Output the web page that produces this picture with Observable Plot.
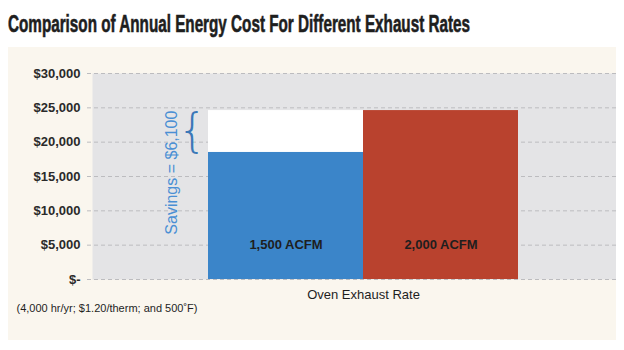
<!DOCTYPE html>
<html>
<head>
<meta charset="utf-8">
<script src="https://cdn.jsdelivr.net/npm/d3@7"></script>
<script src="https://cdn.jsdelivr.net/npm/@observablehq/plot@0.6"></script>
<style>
  html, body { margin: 0; padding: 0; background: #ffffff; }
  body { width: 624px; height: 350px; position: relative; overflow: hidden; font-family: "Liberation Sans", Arial, sans-serif; }
  #title { position: absolute; left: 8px; top: 10px; white-space: nowrap; font-family: "Liberation Sans Narrow", "Liberation Sans", sans-serif; font-weight: bold; font-size: 24px; color: #1e1e1e; -webkit-text-stroke: 0.6px #1e1e1e; transform-origin: 0 0; }
  #panel { position: absolute; left: 8px; top: 47px; width: 608px; height: 293px; background: #faf6ee; }
  #panel svg { display: block; }
</style>
</head>
<body>
<div id="title">Comparison of Annual Energy Cost For Different Exhaust Rates</div>
<div id="panel"></div>
<script>
// ---- data ----
const categories = ["1,500 ACFM", "2,000 ACFM"];
const annualCost = [18500, 24600];
const barColors = ["#3b85c9", "#b9422e"];
const yTicks = [0, 5000, 10000, 15000, 20000, 25000, 30000];
const yTickLabels = ["$-", "$5,000", "$10,000", "$15,000", "$20,000", "$25,000", "$30,000"];
const savingsLabel = "Savings = $6,100";
const xAxisLabel = "Oven Exhaust Rate";
const captionText = "(4,000 hr/yr; $1.20/therm; and 500˚F)";

const bars = categories.map((c, i) => ({category: c, cost: annualCost[i], color: barColors[i]}));
const savings = [{category: categories[0], y1: annualCost[0], y2: annualCost[1]}];

const bandStart = 200, bandEnd = 510;
const bandCenter0 = (bandStart + (bandStart + bandEnd) / 2) / 2;

const chart = Plot.plot({
  width: 608,
  height: 293,
  marginTop: 26,
  marginBottom: 61,
  marginLeft: 84,
  marginRight: 0,
  style: {background: "transparent", fontFamily: "'Liberation Sans', Arial, sans-serif"},
  x: {domain: categories, range: [bandStart, bandEnd], padding: 0, axis: null},
  y: {domain: [0, 30000], ticks: yTicks, tickFormat: d => yTickLabels[yTicks.indexOf(d)], axis: null},
  marks: [
    Plot.frame({fill: "#e4e4e6", stroke: null}),
    Plot.ruleY(yTicks, {stroke: "#bcbcbf", strokeDasharray: "4,3", strokeWidth: 1, insetLeft: -5}),
    Plot.axisY({ticks: yTicks, tickFormat: d => yTickLabels[yTicks.indexOf(d)], tickSize: 0, tickPadding: 12, label: null, fontSize: 13, fontWeight: "bold", fill: "#2a2a2a"}),
    Plot.rectY(savings, {x: "category", y1: "y1", y2: "y2", fill: "#ffffff"}),
    Plot.barY(bars, {x: "category", y: "cost", fill: "color"}),
    Plot.text(bars, {x: "category", text: "category", frameAnchor: "bottom", dy: -31, fontSize: 13, fontWeight: "bold", fill: "#1e1e1e"}),
    Plot.text(savings, {x: "category", y: "y2", text: () => savingsLabel, rotate: -90, textAnchor: "end", dx: 163 - bandCenter0, fontSize: 16, fill: "#4a8fd4"}),
    Plot.text(savings, {x: "category", y: d => (d.y1 + d.y2) / 2, text: () => "{", dx: 184 - bandCenter0, fontSize: 46, fontFamily: "DejaVu Sans", fontWeight: 200, fill: "#3b78b8"}),
    Plot.text([xAxisLabel], {text: d => d, frameAnchor: "bottom", dy: 19, fontSize: 13, fill: "#1e1e1e", x: () => categories[0], dx: (bandEnd - bandStart) / 4}),
    Plot.text([captionText], {text: d => d, frameAnchor: "bottom-left", dx: -76, dy: 32, textAnchor: "start", fontSize: 11, fill: "#1e1e1e"})
  ]
});
document.getElementById("panel").appendChild(chart);

// fit the condensed title to its width in the reference
const t = document.getElementById("title");
const w = t.getBoundingClientRect().width;
t.style.transform = `scaleX(${462 / w})`;
</script>
</body>
</html>
